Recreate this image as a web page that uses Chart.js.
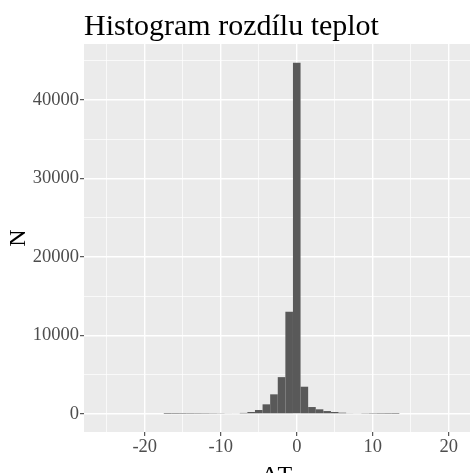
<!DOCTYPE html>
<html>
<head>
<meta charset="utf-8">
<script src="https://cdn.jsdelivr.net/npm/chart.js@4.4.1/dist/chart.umd.min.js"></script>
<style>
  html, body { margin: 0; padding: 0; background: #fff; }
  #wrap { width: 470px; height: 473px; }
</style>
</head>
<body>
<div id="wrap"><canvas id="chart" width="470" height="473"></canvas></div>
<script>
// středy binů (šířka 1 °C)
const binCenters = [-25, -24, -23, -22, -21, -20, -19, -18, -17, -16, -15, -14, -13, -12, -11, -10,
  -9, -8, -7, -6, -5, -4, -3, -2, -1, 0, 1, 2, 3, 4, 5, 6, 7, 8, 9, 10,
  11, 12, 13, 14, 15, 16, 17, 18, 19, 20];
// počty v binech (nejkrajnější biny nejsou vidět)
const counts = [0, 0, 0, 0, 0, 0, 0, 0, 15, 20, 25, 30, 35, 40, 50, 60,
  75, 100, 140, 255, 510, 1235, 2510, 4700, 13030, 44750, 3480, 890, 600, 380, 255, 170, 110, 75, 55, 40,
  30, 25, 20, 0, 0, 0, 0, 0, 0, 0];

const xTickValues = [-20, -10, 0, 10, 20];
const xTickLabels = ['-20', '-10', '0', '10', '20'];
const xMinorValues = [-25, -15, -5, 5, 15];
const yTickValues = [0, 10000, 20000, 30000, 40000];
const yTickLabels = ['0', '10000', '20000', '30000', '40000'];
const yMinorValues = [5000, 15000, 25000, 35000, 45000];

const FONT = "'Liberation Serif', 'DejaVu Serif', serif";

const isMajor = (list, c) => !!(c && c.tick) && list.indexOf(c.tick.value) !== -1;

// šedé pozadí panelu + nadpis
const panelPlugin = {
  id: 'panel',
  beforeDraw(chart) {
    const { ctx, chartArea: a } = chart;
    ctx.save();
    ctx.fillStyle = '#ffffff';
    ctx.fillRect(0, 0, chart.width, chart.height);
    ctx.fillStyle = '#ebebeb';
    ctx.fillRect(a.left, a.top, a.right - a.left, a.bottom - a.top);
    ctx.restore();
  },
  afterDraw(chart) {
    const { ctx } = chart;
    ctx.save();
    ctx.fillStyle = '#000';
    ctx.font = "30px " + FONT;
    ctx.textBaseline = 'alphabetic';
    ctx.fillText('Histogram rozdílu teplot', 84, 35);
    ctx.restore();
  }
};

const ctx = document.getElementById('chart').getContext('2d');
new Chart(ctx, {
  type: 'bar',
  data: {
    datasets: [{
      data: binCenters.map((x, i) => ({ x: x, y: counts[i] })),
      backgroundColor: '#595959',
      borderWidth: 0,
      inflateAmount: 0,
      barPercentage: 1,
      categoryPercentage: 1
    }]
  },
  options: {
    responsive: false,
    animation: false,
    devicePixelRatio: 1,
    layout: { padding: { top: 44, left: 0, right: 0, bottom: 0 } },
    plugins: { legend: { display: false }, tooltip: { enabled: false } },
    scales: {
      x: {
        type: 'linear',
        offset: false,
        min: -28.0,
        max: 22.8,
        afterBuildTicks: s => {
          s.ticks = xMinorValues.concat(xTickValues).sort((a, b) => a - b).map(v => ({ value: v }));
        },
        afterFit: s => { s.height = 41; },
        ticks: {
          autoSkip: false,
          maxRotation: 0,
          padding: 0,
          color: '#4d4d4d',
          font: { family: FONT, size: 18.5 },
          callback: v => {
            const i = xTickValues.indexOf(v);
            return i === -1 ? '' : xTickLabels[i];
          }
        },
        grid: {
          offset: false,
          color: '#ffffff',
          lineWidth: c => isMajor(xTickValues, c) ? 1.4 : 0.7,
          drawTicks: true,
          tickLength: 4,
          tickWidth: 1,
          tickColor: c => isMajor(xTickValues, c) ? '#333333' : 'rgba(0,0,0,0)'
        },
        border: { display: false },
        title: {
          display: true,
          text: 'ΔT',
          color: '#000',
          font: { family: FONT, size: 24, lineHeight: 0.1 },
          padding: { top: 0, bottom: -4 }
        }
      },
      y: {
        min: -2290,
        max: 47140,
        afterBuildTicks: s => {
          s.ticks = yTickValues.concat(yMinorValues).sort((a, b) => a - b).map(v => ({ value: v }));
        },
        afterFit: s => { s.width = 84; },
        ticks: {
          padding: 1,
          color: '#4d4d4d',
          font: { family: FONT, size: 18.5 },
          callback: v => {
            const i = yTickValues.indexOf(v);
            return i === -1 ? '' : yTickLabels[i];
          }
        },
        grid: {
          color: '#ffffff',
          lineWidth: c => isMajor(yTickValues, c) ? 1.4 : 0.7,
          drawTicks: true,
          tickLength: 4,
          tickWidth: 1,
          tickColor: c => isMajor(yTickValues, c) ? '#333333' : 'rgba(0,0,0,0)'
        },
        border: { display: false },
        title: {
          display: true,
          text: 'N',
          color: '#000',
          font: { family: FONT, size: 24, lineHeight: 1 },
          padding: { top: 7, bottom: 0 }
        }
      }
    }
  },
  plugins: [panelPlugin]
});
</script>
</body>
</html>
